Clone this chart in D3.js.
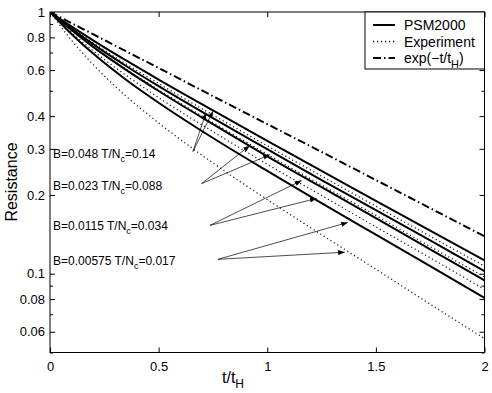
<!DOCTYPE html>
<html>
<head>
<meta charset="utf-8">
<script src="https://cdn.jsdelivr.net/npm/d3@7"></script>
<style>
body { margin: 0; background: #fff; }
text { font-family: "Liberation Sans", Arial, sans-serif; fill: #000; }
</style>
</head>
<body>
<svg id="chart" width="492" height="393"></svg>
<script>
// time grid t/t_H and curve values
var tGrid = [0, 0.1, 0.2, 0.35, 0.5, 0.75, 1, 1.25, 1.5, 1.75, 2];

var psm1 = [1, 0.879, 0.778, 0.653, 0.552, 0.421, 0.322, 0.247, 0.190, 0.146, 0.1125];
var psm2 = [1, 0.862, 0.752, 0.622, 0.521, 0.393, 0.299, 0.228, 0.175, 0.134, 0.1024];
var psm3 = [1, 0.851, 0.734, 0.601, 0.499, 0.373, 0.281, 0.214, 0.163, 0.124, 0.0943];
var psm4 = [1, 0.822, 0.692, 0.551, 0.450, 0.330, 0.247, 0.186, 0.141, 0.107, 0.0808];

var exp1 = [1, 0.868, 0.761, 0.633, 0.533, 0.404, 0.308, 0.236, 0.181, 0.139, 0.1069];
var exp2 = [1, 0.852, 0.738, 0.605, 0.504, 0.378, 0.286, 0.218, 0.167, 0.127, 0.0973];
var exp3 = [1, 0.834, 0.710, 0.573, 0.471, 0.349, 0.262, 0.199, 0.151, 0.115, 0.0871];
var exp4 = [1, 0.778, 0.628, 0.477, 0.377, 0.265, 0.192, 0.141, 0.104, 0.0765, 0.0565];

var theory = [1, 0.906, 0.821, 0.708, 0.611, 0.477, 0.373, 0.292, 0.228, 0.178, 0.139];

var xTicks = [0, 0.5, 1, 1.5, 2];
var yTicks = [0.06, 0.08, 0.1, 0.2, 0.3, 0.4, 0.6, 0.8, 1];
var yMinor = [0.05, 0.07, 0.09, 0.5, 0.7, 0.9];

var labels = ["B=0.048 T/N|c|=0.14", "B=0.023 T/N|c|=0.088", "B=0.0115 T/N|c|=0.034", "B=0.00575 T/N|c|=0.017"];
var labelPos = [[0.014, 0.277], [0.014, 0.209], [0.014, 0.147], [0.014, 0.108]];
// arrows: start point, then two targets (t, R)
var arrows = [
  [[0.658, 0.293], [0.718, 0.412], [0.750, 0.418]],
  [[0.698, 0.221], [0.920, 0.309], [1.012, 0.285]],
  [[0.736, 0.153], [1.158, 0.227], [1.227, 0.194]],
  [[0.773, 0.1135], [1.371, 0.157], [1.357, 0.1208]]
];

var svg = d3.select("#chart");
var pLeft = 50, pRight = 484.5, pTop = 12, pBottom = 352.5;

var x = d3.scaleLinear().domain([0, 2]).range([pLeft, pRight]);
var y = d3.scaleLog().domain([0.05, 1]).range([pBottom, pTop]);

var defs = svg.append("defs");
defs.append("clipPath").attr("id", "clip")
  .append("rect").attr("x", pLeft).attr("y", pTop)
  .attr("width", pRight - pLeft).attr("height", pBottom - pTop);

defs.append("marker")
  .attr("id", "head").attr("viewBox", "0 0 8 6")
  .attr("refX", 8).attr("refY", 3)
  .attr("markerWidth", 7).attr("markerHeight", 5)
  .attr("markerUnits", "userSpaceOnUse")
  .attr("orient", "auto")
  .append("path").attr("d", "M0,0L8,3L0,6z").attr("fill", "#000");

// frame
svg.append("rect").attr("x", pLeft).attr("y", pTop)
  .attr("width", pRight - pLeft).attr("height", pBottom - pTop)
  .attr("fill", "none").attr("stroke", "#000").attr("stroke-width", 1);

// axes, ticks inward on all four sides
svg.append("g").attr("transform", "translate(0," + pBottom + ")")
  .call(d3.axisBottom(x).tickValues(xTicks).tickSize(-5).tickPadding(9).tickFormat(d3.format("")))
  .call(g => g.select(".domain").remove());
svg.append("g").attr("transform", "translate(0," + pTop + ")")
  .call(d3.axisTop(x).tickValues(xTicks).tickSize(-5).tickFormat(""))
  .call(g => g.select(".domain").remove());
svg.append("g").attr("transform", "translate(" + pLeft + ",0)")
  .call(d3.axisLeft(y).tickValues(yTicks).tickSize(-5).tickPadding(5).tickFormat(d3.format("")))
  .call(g => g.select(".domain").remove());
svg.append("g").attr("transform", "translate(" + pRight + ",0)")
  .call(d3.axisRight(y).tickValues(yTicks).tickSize(-5).tickFormat(""))
  .call(g => g.select(".domain").remove());
svg.append("g").attr("transform", "translate(" + pLeft + ",0)")
  .call(d3.axisLeft(y).tickValues(yMinor).tickSize(-3).tickFormat(""))
  .call(g => g.select(".domain").remove());
svg.append("g").attr("transform", "translate(" + pRight + ",0)")
  .call(d3.axisRight(y).tickValues(yMinor).tickSize(-3).tickFormat(""))
  .call(g => g.select(".domain").remove());
svg.selectAll(".tick text").style("font-size", "13px").style("font-family", "Liberation Sans, Arial, sans-serif");
svg.selectAll(".tick line").attr("stroke", "#000");

// axis titles
var xl = svg.append("text").attr("x", 222).attr("y", 383).style("font-size", "16px");
xl.append("tspan").text("t/t");
xl.append("tspan").attr("dy", 5).style("font-size", "12px").text("H");

svg.append("text").attr("transform", "translate(17,182) rotate(-90)")
  .attr("text-anchor", "middle").style("font-size", "16px").text("Resistance");

var line = d3.line().x((d, i) => x(tGrid[i])).y(d => y(d)).curve(d3.curveMonotoneX);
var plot = svg.append("g").attr("clip-path", "url(#clip)");

plot.append("path").datum(theory).attr("d", line)
  .attr("fill", "none").attr("stroke", "#000").attr("stroke-width", 2)
  .attr("stroke-dasharray", "8,3,1.5,3");

[exp1, exp2, exp3, exp4].forEach(function (s) {
  plot.append("path").datum(s).attr("d", line)
    .attr("fill", "none").attr("stroke", "#222").attr("stroke-width", 1.3)
    .attr("stroke-dasharray", "1.2,2.8");
});
[psm1, psm2, psm3, psm4].forEach(function (s) {
  plot.append("path").datum(s).attr("d", line)
    .attr("fill", "none").attr("stroke", "#000").attr("stroke-width", 2);
});

// annotations
labels.forEach(function (lab, i) {
  var parts = lab.split("|");
  var t = svg.append("text").attr("x", x(labelPos[i][0])).attr("y", y(labelPos[i][1]))
    .style("font-size", "12px");
  t.append("tspan").text(parts[0]);
  t.append("tspan").attr("dy", 4).style("font-size", "9px").text(parts[1]);
  t.append("tspan").attr("dy", -4).text(parts[2]);
});

arrows.forEach(function (a) {
  [a[1], a[2]].forEach(function (p) {
    svg.append("line")
      .attr("x1", x(a[0][0])).attr("y1", y(a[0][1]))
      .attr("x2", x(p[0])).attr("y2", y(p[1]))
      .attr("stroke", "#000").attr("stroke-width", 0.7)
      .attr("marker-end", "url(#head)");
  });
});

// legend
var lg = svg.append("g");
lg.append("rect").attr("x", 365).attr("y", pTop).attr("width", pRight - 365).attr("height", 57)
  .attr("fill", "#fff").attr("stroke", "#000").attr("stroke-width", 1);
var legendItems = [
  { name: "PSM2000", w: 2, dash: null },
  { name: "Experiment", w: 1.3, dash: "1.2,2.8" },
  { name: "exp(\u2212t/t|H|)", w: 2, dash: "8,3,1.5,3" }
];
legendItems.forEach(function (d, i) {
  var yy = 25 + i * 16.5;
  lg.append("line").attr("x1", 373).attr("x2", 395).attr("y1", yy).attr("y2", yy)
    .attr("stroke", "#000").attr("stroke-width", d.w).attr("stroke-dasharray", d.dash);
  var parts = d.name.split("|");
  var t = lg.append("text").attr("x", 404).attr("y", yy + 5).style("font-size", "14px");
  t.append("tspan").text(parts[0]);
  if (parts.length > 1) {
    t.append("tspan").attr("dy", 5).style("font-size", "11px").text(parts[1]);
    t.append("tspan").attr("dy", -5).text(parts[2]);
  }
});
</script>
</body>
</html>
